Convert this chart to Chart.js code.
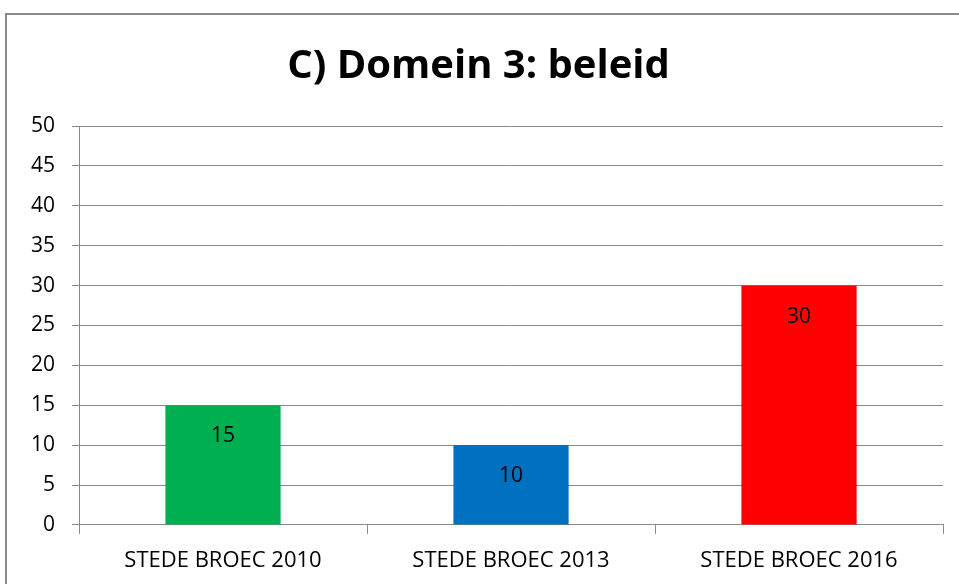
<!DOCTYPE html>
<html>
<head>
<meta charset="utf-8">
<script src="https://cdn.jsdelivr.net/npm/chart.js@4.4.1/dist/chart.umd.min.js"></script>
<style>
  html, body { margin: 0; padding: 0; background: #fff; }
  #wrap { position: relative; width: 959px; height: 584px; }
  #rand {
    position: absolute; left: 5px; top: 13px; width: 1000px; height: 1000px;
    border-left: 2px solid #8a8a8a; border-top: 2px solid #8a8a8a;
    pointer-events: none;
  }
</style>
</head>
<body>
<div id="wrap">
  <canvas id="grafiek" width="959" height="584"></canvas>
  <div id="rand"></div>
</div>
<script>
// Gegevens van de grafiek
const categorieen = ['STEDE BROEC 2010', 'STEDE BROEC 2013', 'STEDE BROEC 2016'];
const waarden = [15, 10, 30];
const kleuren = ['#00B050', '#0070C0', '#FF0000'];
const titel = 'C) Domein 3: beleid';

const lettertype = "'Open Sans', 'Noto Sans', sans-serif";

// Waarden in de staven schrijven, net onder de bovenkant
const waardeLabels = {
    id: 'waardeLabels',
    afterDatasetsDraw(chart) {
        const ctx = chart.ctx;
        const meta = chart.getDatasetMeta(0);
        ctx.save();
        ctx.fillStyle = '#000';
        ctx.font = "21px " + lettertype;
        ctx.textAlign = 'center';
        ctx.textBaseline = 'middle';
        meta.data.forEach(function (staaf, i) {
            ctx.fillText(String(waarden[i]), staaf.x, staaf.y + 31);
        });
        ctx.restore();
    }
};

const config = {
    type: 'bar',
    data: {
        labels: categorieen,
        datasets: [{
            data: waarden,
            backgroundColor: kleuren,
            barPercentage: 0.4,
            categoryPercentage: 1.0
        }]
    },
    options: {
        responsive: false,
        animation: false,
        layout: { padding: { left: 14, right: 16, top: 43, bottom: -3 } },
        plugins: {
            legend: { display: false },
            tooltip: { enabled: false },
            title: {
                display: true,
                text: titel,
                color: '#000',
                font: { family: lettertype, size: 40, weight: 'bold' },
                padding: { top: 0, bottom: 35 }
            }
        },
        scales: {
            x: {
                offset: true,
                grid: {
                    offset: true,
                    drawOnChartArea: false,
                    drawTicks: true,
                    tickLength: 9,
                    color: '#8a8a8a'
                },
                border: { display: true, color: '#8a8a8a', width: 1 },
                ticks: {
                    color: '#000',
                    font: { family: lettertype, size: 22, lineHeight: 1.05 },
                    padding: 15
                }
            },
            y: {
                min: 0,
                max: 50,
                ticks: {
                    stepSize: 5,
                    color: '#000',
                    font: { family: lettertype, size: 21 },
                    padding: 17
                },
                grid: {
                    color: '#8a8a8a',
                    drawTicks: true,
                    tickLength: 7
                },
                border: { display: true, color: '#8a8a8a', width: 1 }
            }
        }
    },
    plugins: [waardeLabels]
};

new Chart(document.getElementById('grafiek'), config);
</script>
</body>
</html>
